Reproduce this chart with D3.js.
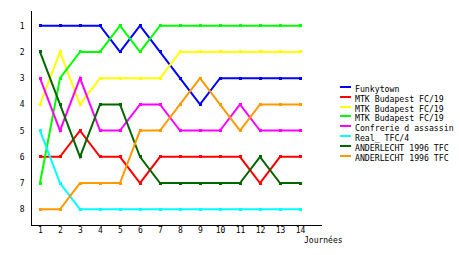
<!DOCTYPE html>
<html>
<head>
<meta charset="utf-8">
<script src="https://cdn.jsdelivr.net/npm/d3@7"></script>
<style>
  body { margin: 0; background: #fff; }
  svg { display: block; }
  .axis text { font-family: "DejaVu Sans Mono", monospace; font-size: 8px; fill: #000; }
  .axis path { stroke: #000; stroke-width: 1; shape-rendering: crispEdges; }
  .legend text { font-family: "DejaVu Sans Mono", monospace; font-size: 8.2px; fill: #000; }
</style>
</head>
<body>
<svg id="chart" width="460" height="255"></svg>
<script>
// rounds (journees) and rank tick labels
var rounds = [1, 2, 3, 4, 5, 6, 7, 8, 9, 10, 11, 12, 13, 14];
var rankTicks = [1, 2, 3, 4, 5, 6, 7, 8];

// team names and colours, in legend order
var teams = [
  'Funkytown',
  'MTK Budapest FC/19',
  'MTK Budapest FC/19',
  'MTK Budapest FC/19',
  'Confrerie d assassin',
  'Real_ TFC/4',
  'ANDERLECHT 1996 TFC',
  'ANDERLECHT 1996 TFC'
];
var colors = ['#0000ff', '#ff0000', '#ffff00', '#00ff00', '#ff00ff', '#00ffff', '#006600', '#ff9900'];

// rank of each team per round
var funkytown   = [1, 1, 1, 1, 2, 1, 2, 3, 4, 3, 3, 3, 3, 3];
var mtkRed      = [6, 6, 5, 6, 6, 7, 6, 6, 6, 6, 6, 7, 6, 6];
var mtkYellow   = [4, 2, 4, 3, 3, 3, 3, 2, 2, 2, 2, 2, 2, 2];
var mtkGreen    = [7, 3, 2, 2, 1, 2, 1, 1, 1, 1, 1, 1, 1, 1];
var confrerie   = [3, 5, 3, 5, 5, 4, 4, 5, 5, 5, 4, 5, 5, 5];
var realTfc     = [5, 7, 8, 8, 8, 8, 8, 8, 8, 8, 8, 8, 8, 8];
var anderDark   = [2, 4, 6, 4, 4, 6, 7, 7, 7, 7, 7, 6, 7, 7];
var anderOrange = [8, 8, 7, 7, 7, 5, 5, 4, 3, 4, 5, 4, 4, 4];

var series = [funkytown, mtkRed, mtkYellow, mtkGreen, confrerie, realTfc, anderDark, anderOrange];

var svg = d3.select('#chart');

var x = d3.scaleLinear().domain([0.5, 15.05]).range([30, 321]);
var y = d3.scaleLinear().domain([0.4, 8.6]).range([10, 225]);

// axes
svg.append('g')
  .attr('class', 'axis')
  .attr('transform', 'translate(0,224.5)')
  .call(d3.axisBottom(x).tickValues(rounds).tickFormat(d3.format('d')).tickSize(0).tickSizeOuter(0).tickPadding(3));

svg.append('g')
  .attr('class', 'axis')
  .attr('transform', 'translate(30.5,0)')
  .call(d3.axisLeft(y).tickValues(rankTicks).tickFormat(d3.format('d')).tickSize(0).tickSizeOuter(0).tickPadding(6));

svg.append('text')
  .attr('x', 304)
  .attr('y', 243)
  .style('font-family', '"DejaVu Sans Mono", monospace')
  .style('font-size', '8px')
  .text('Journées');

// lines
var line = d3.line()
  .x(function(d, i) { return x(rounds[i]); })
  .y(function(d) { return y(d); });

var teamG = svg.selectAll('g.team')
  .data(series)
  .enter().append('g')
  .attr('class', 'team');

teamG.append('path')
  .attr('d', line)
  .attr('fill', 'none')
  .attr('stroke', function(d, i) { return colors[i]; })
  .attr('stroke-width', 2);

teamG.selectAll('rect')
  .data(function(d, i) { return d.map(function(v, j) { return { r: rounds[j], v: v, c: colors[i] }; }); })
  .enter().append('rect')
  .attr('x', function(d) { return x(d.r) - 1.5; })
  .attr('y', function(d) { return y(d.v) - 1.5; })
  .attr('width', 3)
  .attr('height', 3)
  .attr('fill', function(d) { return d.c; })
  .attr('shape-rendering', 'crispEdges');

// legend
var legend = svg.append('g').attr('class', 'legend');
var item = legend.selectAll('g')
  .data(teams)
  .enter().append('g')
  .attr('transform', function(d, i) { return 'translate(340,' + (87 + i * 9.8) + ')'; });

item.append('rect')
  .attr('x', 0)
  .attr('y', -1)
  .attr('width', 11)
  .attr('height', 2)
  .attr('fill', function(d, i) { return colors[i]; })
  .attr('shape-rendering', 'crispEdges');

item.append('text')
  .attr('x', 15)
  .attr('y', 5)
  .text(function(d) { return d; });
</script>
</body>
</html>
